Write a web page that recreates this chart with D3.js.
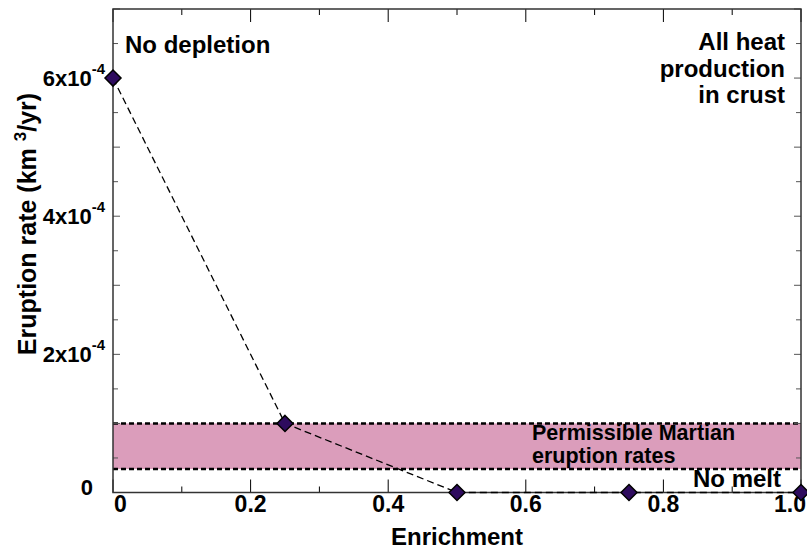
<!DOCTYPE html>
<meta charset="utf-8" />
<style>
  body { margin: 0; background: #fff; }
  text { font-family: "Liberation Sans", Arial, sans-serif; font-weight: bold; fill: #000; }
</style>
<body>
<div id="chart"></div>
<script src="https://d3js.org/d3.v7.min.js"></script>
<script>
  // data
  var enrichment = [0, 0.25, 0.5, 0.75, 1.0];
  var eruptionRate = [6e-4, 1e-4, 0, 0, 0];
  var bandRange = [0.34e-4, 1e-4];
  var xTicks = [0, 0.2, 0.4, 0.6, 0.8, 1.0];
  var xTickLabels = ["0", "0.2", "0.4", "0.6", "0.8", "1.0"];
  var yTicks = [0, 2e-4, 4e-4, 6e-4];
  var yTickMant = ["0", "2", "4", "6"];

  var width = 807, height = 552;
  var margin = { top: 9, right: 6, bottom: 60, left: 113 };
  var w = width - margin.left - margin.right,
      h = height - margin.top - margin.bottom;

  var x = d3.scaleLinear().domain([0, 1]).range([0, 688]);
  var y = d3.scaleLinear().domain([0, 7e-4]).range([h + 0.5, 0]);

  var svg = d3.select("#chart").append("svg")
    .attr("width", width).attr("height", height);
  var g = svg.append("g")
    .attr("transform", "translate(" + margin.left + "," + margin.top + ")");

  // permissible band
  g.append("rect")
    .attr("x", 0).attr("width", x(1))
    .attr("y", y(bandRange[1])).attr("height", y(bandRange[0]) - y(bandRange[1]))
    .attr("fill", "#db9dbb");
  bandRange.forEach(function (v) {
    g.append("line")
      .attr("x1", 0).attr("x2", x(1))
      .attr("y1", y(v)).attr("y2", y(v))
      .attr("stroke", "#000").attr("stroke-width", 2.5)
      .attr("stroke-dasharray", "5,3");
  });

  // axes: bottom/top with minor ticks
  var xMinor = d3.range(0.1, 1, 0.2);
  function xAxisTicks(isTop) {
    var dir = isTop ? 1 : -1, base = isTop ? 0 : y(0);
    xTicks.forEach(function (t) {
      g.append("line").attr("x1", x(t)).attr("x2", x(t))
        .attr("y1", base).attr("y2", base + dir * 13)
        .attr("stroke", "#000").attr("stroke-width", 1);
    });
    xMinor.forEach(function (t) {
      g.append("line").attr("x1", x(t)).attr("x2", x(t))
        .attr("y1", base).attr("y2", base + dir * 6)
        .attr("stroke", "#000").attr("stroke-width", 1);
    });
  }
  xAxisTicks(false);
  xAxisTicks(true);

  var yAll = d3.range(0, 7.01e-4, 0.5e-4);
  yAll.forEach(function (t, i) {
    var len = i % 2 === 0 ? 7 : 5;
    g.append("line").attr("x1", 0).attr("x2", len)
      .attr("y1", y(t)).attr("y2", y(t)).attr("stroke", "#555").attr("stroke-width", 1);
    g.append("line").attr("x1", x(1)).attr("x2", x(1) - len)
      .attr("y1", y(t)).attr("y2", y(t)).attr("stroke", "#555").attr("stroke-width", 1);
  });

  // frame
  g.append("rect").attr("x", 0).attr("y", 0).attr("width", x(1)).attr("height", y(0))
    .attr("fill", "none").attr("stroke", "#333").attr("stroke-width", 1.5);

  // x tick labels (first one sits right of the axis, last one kept inside the page)
  g.selectAll(".xl").data(xTicks).enter().append("text")
    .attr("x", function (d, i) {
      if (i === 0) return x(d) + 1;
      if (i === xTicks.length - 1) return width - margin.left - 1;
      return x(d);
    })
    .attr("y", y(0) + 19)
    .attr("text-anchor", function (d, i) {
      if (i === 0) return "start";
      if (i === xTicks.length - 1) return "end";
      return "middle";
    })
    .style("font-size", "23px")
    .text(function (d, i) { return xTickLabels[i]; });

  // y tick labels
  yTicks.forEach(function (t, i) {
    var tx = g.append("text")
      .attr("x", -8).attr("y", y(t) + 8)
      .attr("text-anchor", "end")
      .style("font-size", "22px");
    if (t === 0) {
      tx.attr("x", -20).attr("y", y(t) + 2).text("0");
    } else {
      tx.append("tspan").text(yTickMant[i] + "x10");
      tx.append("tspan").attr("dy", -12).style("font-size", "15px").text("-4");
    }
  });

  // axis titles
  svg.append("text")
    .attr("x", margin.left + x(0.5)).attr("y", 545)
    .attr("text-anchor", "middle").style("font-size", "24px")
    .text("Enrichment");
  var yt = svg.append("text")
    .attr("transform", "translate(36,224) rotate(-90)")
    .attr("text-anchor", "middle").style("font-size", "25px");
  yt.append("tspan").text("Eruption rate (km ");
  yt.append("tspan").attr("dy", -10).style("font-size", "17px").text("3");
  yt.append("tspan").attr("dy", 10).text("/yr)");

  // dashed line
  var pts = enrichment.map(function (d, i) { return [d, eruptionRate[i]]; });
  g.append("path")
    .datum(pts)
    .attr("fill", "none").attr("stroke", "#000").attr("stroke-width", 1.3)
    .attr("stroke-dasharray", "7,4")
    .attr("d", d3.line().x(function (d) { return x(d[0]); }).y(function (d) { return y(d[1]); }));

  // diamonds
  g.selectAll(".pt").data(pts).enter().append("path")
    .attr("transform", function (d) { return "translate(" + x(d[0]) + "," + y(d[1]) + ")"; })
    .attr("d", "M0,-8L8,0L0,8L-8,0Z")
    .attr("fill", "#2e0b5e").attr("stroke", "#000").attr("stroke-width", 1.5);

  // annotations
  g.append("text").attr("x", 12).attr("y", 44).style("font-size", "24px").text("No depletion");
  ["All heat", "production", "in crust"].forEach(function (s, i) {
    g.append("text").attr("x", x(1) - 16).attr("y", 41 + i * 26.5)
      .attr("text-anchor", "end").style("font-size", "24px").text(s);
  });
  ["Permissible Martian", "eruption rates"].forEach(function (s, i) {
    g.append("text").attr("x", 419).attr("y", 431 + i * 23)
      .style("font-size", "21.5px").text(s);
  });
  g.append("text").attr("x", 580).attr("y", 478).style("font-size", "24px").text("No melt");
</script>
</body>
